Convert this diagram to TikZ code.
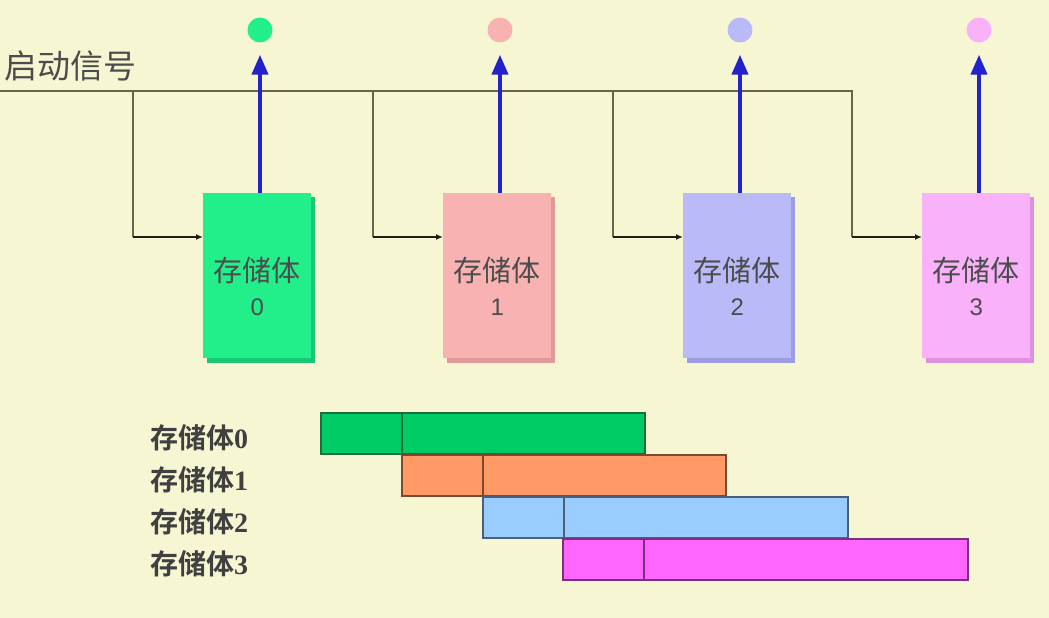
\documentclass[tikz,border=0pt]{standalone}
\usepackage{fontspec}
\setmainfont{Liberation Serif}
\setsansfont{Liberation Sans}
\newfontfamily\cjk{Noto Sans CJK SC}
\newfontfamily\cjkb{Noto Sans CJK SC}[BoldFont=* Bold]
\usetikzlibrary{arrows.meta}
\definecolor{bg}{HTML}{F7F6D3}
\definecolor{wire}{HTML}{66664A}
\definecolor{ablue}{HTML}{2222CC}
\definecolor{cA}{HTML}{22EE8A}\definecolor{cAd}{HTML}{18C874}
\definecolor{cB}{HTML}{F9B2B2}\definecolor{cBd}{HTML}{E09A9A}
\definecolor{cC}{HTML}{BABAF8}\definecolor{cCd}{HTML}{9C9CE0}
\definecolor{cD}{HTML}{F9B2F9}\definecolor{cDd}{HTML}{E090E0}
\definecolor{gA}{HTML}{00CC66}\definecolor{gAd}{HTML}{1F6B3F}
\definecolor{gB}{HTML}{FF9966}\definecolor{gBd}{HTML}{7A4A30}
\definecolor{gC}{HTML}{99CCFF}\definecolor{gCd}{HTML}{4A607A}
\definecolor{gD}{HTML}{FF66FF}\definecolor{gDd}{HTML}{7A307A}
\tikzset{
  wireline/.style={draw=wire, line width=2.5pt},
  branch/.style={draw=black!70!wire, line width=1.5pt, -{Latex[length=7pt,width=6pt]}},
  outarrow/.style={draw=ablue, line width=4pt, -{Triangle[length=20pt,width=16pt]}},
  bank/.style={minimum width=108pt, minimum height=165pt, inner sep=0pt, align=center, font=\cjk\fontsize{29}{36}\selectfont, text=black!70},
  bar/.style={line width=1.5pt},
  rowlab/.style={anchor=west, inner sep=0pt, font=\cjkb\bfseries\fontsize{28}{30}\selectfont, text=black!75},
}
\begin{document}
\begin{tikzpicture}[x=1pt,y=-1pt]
\fill[bg] (0,0) rectangle (1049,618);
\useasboundingbox (0,0) rectangle (1049,618);
\node[anchor=west, inner sep=0pt, font=\cjk\fontsize{33}{35}\selectfont, text=black!70] (start) at (4,66) {启动信号};
\coordinate (L0) at (0,91);
\coordinate (L1) at (853,91);
\draw[wireline] (L0) -- (L1);
\foreach \i/\x/\c/\d/\lab in {0/203/cA/cAd/0,1/443/cB/cBd/1,2/683/cC/cCd/2,3/922/cD/cDd/3}{
  \fill[\d] (\x+4,197) rectangle (\x+112,363);
  \node[bank, fill=\c, anchor=north west] (b\i) at (\x,193) {\rule{0pt}{46pt}存储体\\[-2pt]{\sffamily\fontsize{24}{28}\selectfont\lab}};
  \coordinate (t\i) at (\x-70,91);
  \coordinate (k\i) at (\x-70,237);
  \draw[wire, line width=1.5pt] (t\i) -- (k\i);
  \draw[branch] (k\i) -- (b\i.west |- k\i);
  \node[circle, fill=\c, minimum size=25pt, inner sep=0pt] (o\i) at (\x+57,30) {};
  \draw[outarrow] (b\i.north -| o\i) -- ([yshift=-12pt]o\i.south);
}
% timing bars
\foreach \i/\x/\y/\w/\c/\d in {0/321/413/645/gA/gAd,1/402/455/726/gB/gBd,2/483/497/848/gC/gCd,3/563/539/968/gD/gDd}{
  \draw[bar, fill=\c, draw=\d] (\x,\y) rectangle (\w,\y+41);
  \coordinate (s\i) at (\x+81,\y);
  \coordinate (e\i) at (\x+81,\y+41);
  \draw[bar, draw=\d] (s\i) -- (e\i);
  \node[rowlab] (r\i) at (150,\y+25) {存储体{\rmfamily\bfseries\i}};
}
\end{tikzpicture}
\end{document}
